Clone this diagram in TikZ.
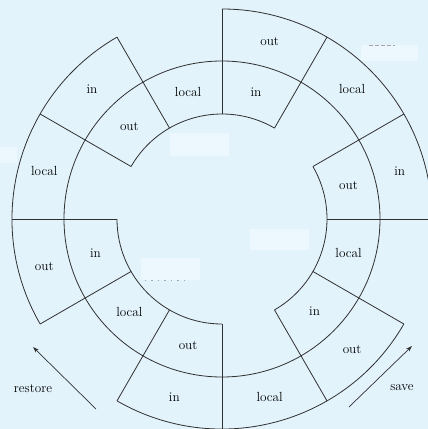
\documentclass[tikz,border=0pt]{standalone}
\usetikzlibrary{arrows.meta}
\definecolor{bg}{HTML}{E2F3FC}
\definecolor{pale}{HTML}{EDF8FE}
\definecolor{ln}{HTML}{303030}
\begin{document}
\begin{tikzpicture}[x=1pt,y=1pt,
  ring/.style={draw=ln,line width=0.8pt},
  lbl/.style={font=\fontsize{13.2}{15}\selectfont,inner sep=0pt,text=black},
  arr/.style={draw=ln,line width=0.7pt,-{Stealth[length=6pt,width=4pt]}},
  faint/.style={draw=gray!70,line width=0.6pt,dash pattern=on 4pt off 2pt}]
\fill[bg] (-222,-210) rectangle (206,219);
\useasboundingbox (-222,-210) rectangle (206,219);
\clip (-222,-210) rectangle (206,219);
% pale artefact patches
\fill[pale] (139,174) rectangle (196,158);
\fill[pale] (-81,-39) rectangle (-22,-61);
\fill[pale] (28,-10) rectangle (87,-31);
\fill[pale] (-52,86) rectangle (7,63);
\fill[pale] (-222,72) rectangle (-205,56);
\draw[faint] (147,174) -- (173,174);
\draw[faint,dash pattern=on 1.5pt off 5pt] (-77,-61) -- (-32,-61);
% rings
\draw[ring] (0,0) circle[radius=158];
\foreach \a in {0,120,240}
  \draw[ring] (\a:210) arc[start angle=\a,end angle=\a+90,radius=210];
\foreach \a in {60,180,300}
  \draw[ring] (\a:105) arc[start angle=\a,end angle=\a+90,radius=105];
\foreach \a in {0,30,...,330}
  \draw[ring] (\a:105) -- (\a:210);
% outer band labels
\node[lbl] (oa) at (75:184) {out};
\node[lbl] (ob) at (45:184) {local};
\node[lbl] (oc) at (15:184) {in};
\node[lbl] (od) at (-45:184) {out};
\node[lbl] (oe) at (-75:184) {local};
\node[lbl] (of) at (-105:184) {in};
\node[lbl] (og) at (195:184) {out};
\node[lbl] (oh) at (165:184) {local};
\node[lbl] (oi) at (135:184) {in};
% inner band labels
\node[lbl] (ia) at (75:131) {in};
\node[lbl] (ib) at (105:131) {local};
\node[lbl] (ic) at (135:131) {out};
\node[lbl] (id) at (195:131) {in};
\node[lbl] (ie) at (225:131) {local};
\node[lbl] (if) at (255:131) {out};
\node[lbl] (ig) at (315:131) {in};
\node[lbl] (ih) at (345:131) {local};
\node[lbl] (ii) at (15:131) {out};
% arrows
\coordinate (rs) at (-126,-190);
\coordinate (re) at (-189,-128);
\coordinate (ss) at (127,-188);
\coordinate (se) at (190,-127);
\draw[arr] (rs) -- (re);
\draw[arr] (ss) -- (se);
\node[lbl] (restore) at (-189,-170) {restore};
\node[lbl] (save) at (180,-169) {save};
\end{tikzpicture}
\end{document}
